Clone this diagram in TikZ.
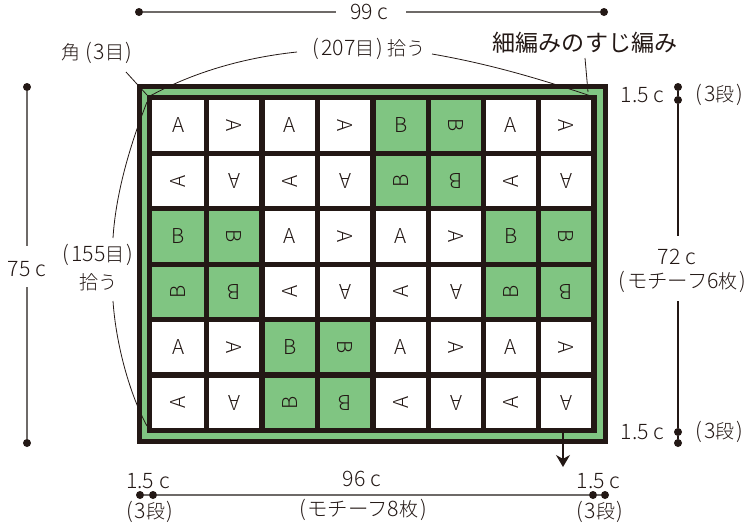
\documentclass[tikz,border=0pt]{standalone}
\usepackage{fontspec}
\setmainfont{Noto Sans CJK JP Light}
\newfontfamily\jpfam{Noto Sans CJK JP Light}
\newfontfamily\jpreg{Noto Sans CJK JP}
\newcommand{\jt}[1]{{\fontsize{14.3}{16}\selectfont\jpfam #1}}
\newcommand{\jk}[1]{{\fontsize{15.3}{16}\selectfont\jpfam #1}}
\newcommand{\lp}{(\kern1.3pt}
\newcommand{\rp}{\kern1.3pt)}
\usetikzlibrary{arrows.meta}
\definecolor{ink}{HTML}{231815}
\definecolor{knit}{HTML}{80C582}
\definecolor{dimgray}{HTML}{6E6A68}
\tikzset{
  x=0.75pt,y=-0.75pt,
  lbl/.style={inner sep=0pt,text=ink,font=\fontsize{16}{18}\selectfont,align=center},
  cellA/.style={inner sep=0pt,text=ink,font=\fontsize{15.4}{16}\selectfont},
  dimline/.style={draw=dimgray,line width=0.9pt},
  thin leader/.style={draw=ink,line width=0.6pt},
  dotc/.style={circle,fill=ink,inner sep=0pt,minimum size=6pt}
}
\begin{document}
\begin{tikzpicture}
\useasboundingbox (0,0) rectangle (747,526);
% frame
\fill[knit] (137,84) rectangle (608,444);
\draw[ink,line width=4pt,miter limit=10] (139.7,86.5) rectangle (605.3,441.5);
% cells
\foreach \r/\cy in {0/125.4,1/181,2/236.5,3/291.9,4/347.2,5/402.7}{
  \foreach \c/\cx in {0/178.2,1/234.3,2/289.8,3/345.2,4/400.8,5/456,6/511,7/566.2}{
    \pgfmathtruncatemacro{\blk}{int(\r/2)*10+int(\c/2)}
    \pgfmathtruncatemacro{\isb}{(\blk==2||\blk==10||\blk==13||\blk==21) ? 1 : 0}
    \pgfmathtruncatemacro{\rt}{int(mod(\r,2))*2+int(mod(\c,2))}
    \ifnum\rt=0 \def\ang{0}\fi
    \ifnum\rt=1 \def\ang{-90}\fi
    \ifnum\rt=2 \def\ang{90}\fi
    \ifnum\rt=3 \def\ang{180}\fi
    \ifnum\isb=1 \def\cfill{knit}\def\cletter{B}\else \def\cfill{white}\def\cletter{A}\fi
    \fill[\cfill] (\cx-29,\cy-28.5) rectangle (\cx+29,\cy+28.5);
    \node[cellA,rotate=\ang] (cell\r\c) at (\cx,\cy) {\cletter};
  }
}
% grid
\foreach \x in {149.7,206.7,262,317.5,373,428.5,483.5,538.5,594}
  \draw[ink,line width=4pt,line cap=rect] (\x,97.5) -- (\x,430.5);
\foreach \y in {97.5,153.3,208.8,264.2,319.5,374.9,430.5}
  \draw[ink,line width=4pt,line cap=rect] (149.7,\y) -- (594,\y);
% dimension dots
\foreach \n/\x/\y in {t1/139/12,t2/604/12,l1/27/87,l2/27/443,r1/678/87,r2/678/100,r3/678/432,r4/678/443,b1/140/495,b2/153/495,b3/593/495,b4/605/495}
  \node[dotc] (\n) at (\x,\y) {};
% labels
\node[lbl] (w99) at (369.5,12) {99 c};
\node[lbl] (h75) at (27,269) {75 c};
\node[lbl,anchor=east] (s1) at (664.5,95) {1.5 c};
\node[lbl] (s2) at (719.5,95) {\lp 3\jt{段}\rp};
\node[lbl,anchor=east] (s3) at (664.5,432) {1.5 c};
\node[lbl] (s4) at (719.5,432) {\lp 3\jt{段}\rp};
\node[lbl] (m72) at (677,257) {72 c};
\node[lbl] (m72b) at (682.5,282) {\lp\jk{モチーフ}6\jt{枚}\rp};
\node[lbl] (b96) at (362,479) {96 c};
\node[lbl] (bm) at (363,510) {\lp\jk{モチーフ}8\jt{枚}\rp};
\node[lbl] (bl1) at (148,481) {1.5 c};
\node[lbl] (bl2) at (150,512) {\lp 3\jt{段}\rp};
\node[lbl] (br1) at (598.5,481) {1.5 c};
\node[lbl] (br2) at (600,512) {\lp 3\jt{段}\rp};
\node[lbl] (cor) at (97,53) {\jt{角} \lp 3\jt{目}\rp};
\node[lbl] (p207) at (369.5,49) {\lp 207\jt{目}\rp\ \jt{拾う}};
\node[lbl] (edge) at (585,43) {\fontsize{17.3}{18}\selectfont\jpreg 細編みのすじ編み};
\node[lbl] (p155a) at (98,255) {\lp 155\jt{目}\rp};
\node[lbl] (p155b) at (98.5,282) {\jt{拾う}};
% dims
\coordinate (t1e) at (336,12);
\coordinate (t2s) at (406,12);
\coordinate (l1e) at (27,246);
\coordinate (l2s) at (27,287);
\coordinate (r2e) at (678,236);
\coordinate (r3s) at (678,301);
\draw[dimline] (t1) -- (t1e);
\draw[dimline] (t2s) -- (t2);
\draw[dimline] (l1) -- (l1e);
\draw[dimline] (l2s) -- (l2);
\draw[thin leader,line width=0.8pt] (r1) -- (r2) -- (r2e);
\draw[thin leader,line width=0.8pt] (r3s) -- (r3) -- (r4);
\draw[dimline] (b1) -- (b2) -- (b3) -- (b4);
% leaders
\coordinate (ca) at (126,72);
\coordinate (cb) at (147,95);
\draw[thin leader] (ca) -- (cb);
\draw[thin leader] (150,96) .. controls (190,74) and (240,58) .. (297,52);
\draw[thin leader] (432,54) .. controls (490,64) and (540,79) .. (591,96);
\draw[thin leader] (147,102) .. controls (132,140) and (116,190) .. (113,238);
\draw[thin leader] (113,301) .. controls (116,345) and (130,395) .. (147,426);
\draw[thin leader] (585,58) -- (588,92);
% arrow
\coordinate (a1) at (563,433);
\coordinate (a2) at (563,467);
\draw[draw=ink,line width=0.9pt,-{Stealth[length=9pt,width=10.5pt]}] (a1) -- (a2);
\end{tikzpicture}
\end{document}
